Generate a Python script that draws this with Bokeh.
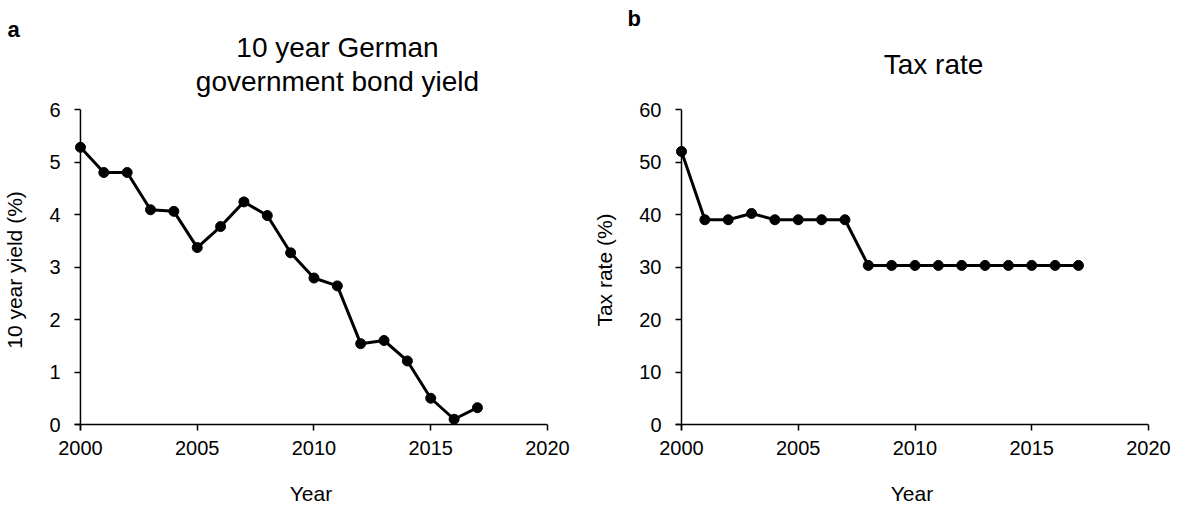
from bokeh.plotting import figure
from bokeh.layouts import row, column
from bokeh.models import Range1d, FixedTicker, Span, ColumnDataSource
from bokeh.core.properties import value
from bokeh.embed import file_html
from bokeh.resources import INLINE

# ---- data ----
years = [2000, 2001, 2002, 2003, 2004, 2005, 2006, 2007, 2008,
         2009, 2010, 2011, 2012, 2013, 2014, 2015, 2016, 2017]
bond_yield = [5.28, 4.80, 4.80, 4.09, 4.06, 3.37, 3.77, 4.24, 3.98,
              3.27, 2.79, 2.64, 1.54, 1.60, 1.21, 0.50, 0.10, 0.32]
tax_rate = [52.0, 39.0, 39.0, 40.2, 39.0, 39.0, 39.0, 39.0, 30.3,
            30.3, 30.3, 30.3, 30.3, 30.3, 30.3, 30.3, 30.3, 30.3]
x_ticks = [2000, 2005, 2010, 2015, 2020]
yield_ticks = [0, 1, 2, 3, 4, 5, 6]
tax_ticks = [0, 10, 20, 30, 40, 50, 60]
title_a = ["10 year German", "government bond yield"]
title_b = ["Tax rate"]

FONT = "Liberation Sans"
PAD = 6          # px of frame beyond the axes origin
HEAD = 100       # header height (titles)
TOP = 9          # panel top border (room for top tick label)
H = 513 - HEAD   # panel height
FRAME_H = 321


def make_panel(xs, ys, yticks, ylabel, width, mbl, mbr):
    mbt, mbb = TOP, H - TOP - FRAME_H
    fw = width - mbl - mbr
    x0, x1 = x_ticks[0], x_ticks[-1]
    y0, y1 = yticks[0], yticks[-1]
    dx = PAD * (x1 - x0) / (fw - PAD)
    dy = PAD * (y1 - y0) / (FRAME_H - PAD)
    p = figure(width=width, height=H, output_backend="svg", toolbar_location=None,
               title=None,
               x_range=Range1d(x0 - dx, x1), y_range=Range1d(y0 - dy, y1),
               min_border_left=mbl, min_border_right=mbr,
               min_border_top=mbt, min_border_bottom=mbb)
    p.outline_line_color = None
    p.xgrid.visible = False
    p.ygrid.visible = False
    p.background_fill_color = "white"
    p.border_fill_color = "white"

    for ax in (p.xaxis[0], p.yaxis[0]):
        ax.axis_line_color = None
        ax.major_tick_in = PAD
        ax.major_tick_out = 0
        ax.minor_tick_line_color = None
        ax.major_tick_line_color = "black"
        ax.major_tick_line_width = 1.5
        ax.major_label_text_font = FONT
        ax.major_label_text_font_size = "20px"
        ax.major_label_text_color = "black"
        ax.axis_label_text_font = FONT
        ax.axis_label_text_font_size = "21px"
        ax.axis_label_text_font_style = "normal"
        ax.axis_label_text_color = "black"
    p.xaxis.ticker = FixedTicker(ticks=x_ticks)
    p.yaxis.ticker = FixedTicker(ticks=yticks)
    p.xaxis.major_label_standoff = 10
    p.yaxis.major_label_standoff = 14
    p.xaxis.axis_label = "Year"
    p.yaxis.axis_label = ylabel
    p.xaxis.axis_label_standoff = 24
    p.yaxis.axis_label_standoff = 20

    p.add_layout(Span(location=x0, dimension="height", line_color="black",
                      line_width=1.5, level="underlay"))
    p.add_layout(Span(location=y0, dimension="width", line_color="black",
                      line_width=1.5, level="underlay"))

    src = ColumnDataSource(dict(x=xs, y=ys))
    p.line("x", "y", source=src, line_color="black", line_width=3)
    p.scatter("x", "y", source=src, size=10, color="black")
    return p


def make_header(width, letter, lx, ly, lines, tx, tys):
    # y measured downward from the top of the header (flipped range)
    h = figure(width=width, height=HEAD, output_backend="svg", toolbar_location=None,
               title=None,
               x_range=Range1d(0, width), y_range=Range1d(HEAD, 0),
               x_axis_location=None, y_axis_location=None,
               min_border=0, min_border_left=0, min_border_right=0,
               min_border_top=0, min_border_bottom=0)
    h.grid.visible = False
    h.outline_line_color = None
    h.background_fill_color = "white"
    h.border_fill_color = "white"
    h.text(x=[lx], y=[ly], text=[letter], text_font=value(FONT),
           text_font_size="22px", text_font_style="bold", text_color="black",
           text_baseline="alphabetic", text_align="left")
    h.text(x=[tx] * len(lines), y=tys, text=lines, text_font=value(FONT),
           text_font_size="28px", text_color="black",
           text_baseline="alphabetic", text_align="center")
    return h


WA, WB = 590, 587
pa = make_panel(years, bond_yield, yield_ticks, "10 year yield (%)", WA, 71, 43)
pb = make_panel(years, tax_rate, tax_ticks, "Tax rate (%)", WB, 85, 29)

ha = make_header(WA, "a", 7, 29, title_a, 337, [47, 81])
hb = make_header(WB, "b", 37, 18, title_b, 343, [64])

layout = column(row(ha, hb), row(pa, pb))
open("out.html", "w").write(file_html(layout, INLINE))
